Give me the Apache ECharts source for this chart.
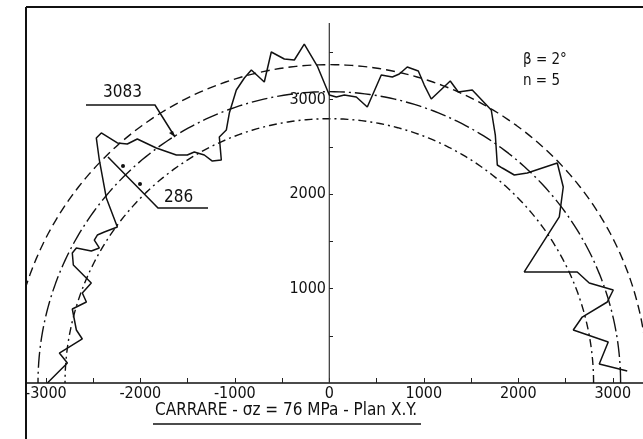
<!DOCTYPE html>
<html><head><meta charset="utf-8">
<script src="https://cdn.jsdelivr.net/npm/echarts@6/dist/echarts.min.js"></script>
<style>html,body{margin:0;padding:0;background:#fff}#c{width:643px;height:439px}</style>
</head><body><div id="c"></div>
<script>
// Measured stress profile (x, y in MPa-scale units), from angle 0° (right) to 180° (left)
const profileX = [3153,2857,2952,2582,2677,2942,3005,2751,2624,2063,2434,2476,2413,2095,1958,1831,1778,1757,1714,1513,1365,1280,1079,1005,942,825,741,667,550,402,286,159,74,0,-127,-265,-370,-476,-614,-688,-825,-899,-984,-1058,-1090,-1164,-1143,-1238,-1323,-1429,-1503,-1619,-1831,-2032,-2138,-2243,-2413,-2466,-2434,-2360,-2243,-2381,-2455,-2487,-2434,-2519,-2677,-2720,-2709,-2519,-2614,-2571,-2720,-2677,-2614,-2857,-2772,-2984];
const profileY = [127,201,434,561,698,857,984,1058,1175,1175,1757,2074,2328,2222,2201,2275,2307,2624,2889,3101,3079,3196,3005,3153,3302,3344,3270,3238,3259,2921,3026,3048,3026,3048,3354,3587,3418,3429,3503,3185,3312,3228,3101,2857,2677,2603,2360,2349,2413,2444,2413,2413,2487,2582,2529,2540,2646,2593,2360,1958,1651,1598,1566,1513,1429,1397,1429,1376,1249,1058,952,857,783,561,466,317,212,0];
// Reference circles: mean 3083, mean ± standard deviation 286
const meanRadius = 3083;
const stdDev = 286;
const circleRadii = [meanRadius + stdDev, meanRadius, meanRadius - stdDev];
const xTickValues = [-3000,-2500,-2000,-1500,-1000,-500,0,500,1000,1500,2000,2500,3000];
const xLabelValues = [-3000,-2000,-1000,0,1000,2000,3000];
const yTickValues = [500,1000,1500,2000,2500,3000,3500];
const yLabelValues = [1000,2000,3000];
const yAxisTop = 3810;
const xMin = -3210, xMax = 3320, yMin = 0, yMax = 3979;

const FONT = "'DejaVu Sans Condensed','Liberation Sans Narrow','DejaVu Sans',sans-serif";
function circlePts(r){const p=[];for(let a=0;a<=180;a+=1){const t=a*Math.PI/180;p.push([r*Math.cos(t),r*Math.sin(t)]);}return p;}
const profile = profileX.map((x,i)=>[x,profileY[i]]);
const circleStyles = [
  {type:[9,5],width:1.4},
  {type:[16,4,2,4],width:1.4},
  {type:[8,4,2,4],width:1.4}
];
const gridLeft = 26, gridWidth = 617;
const yAxisOffset = -Math.round((0 - xMin) / (xMax - xMin) * gridWidth);
const chart = echarts.init(document.getElementById('c'));
chart.setOption({
  animation:false,
  backgroundColor:'#fff',
  grid:{left:gridLeft,top:7,width:gridWidth,height:376,containLabel:false,outerBoundsMode:'none'},
  xAxis:{type:'value',min:xMin,max:xMax,
    axisLine:{show:true,onZero:true,lineStyle:{color:'#111',width:1.6}},
    axisTick:{show:true,inside:true,length:5,customValues:xTickValues,lineStyle:{color:'#222',width:1}},
    axisLabel:{show:true,customValues:xLabelValues,margin:3,color:'#111',fontFamily:FONT,fontSize:16,formatter:v=>String(v)},
    splitLine:{show:false}},
  yAxis:{type:'value',min:yMin,max:yMax,position:'left',offset:yAxisOffset,
    axisLine:{show:false,onZero:false},
    axisTick:{show:true,inside:true,length:4,customValues:yTickValues,lineStyle:{color:'#222',width:1}},
    axisLabel:{show:true,customValues:yLabelValues,margin:3,color:'#111',fontFamily:FONT,fontSize:16,formatter:v=>String(v)},
    splitLine:{show:false}},
  series:[
    ...circleRadii.map((r,i)=>({type:'line',data:circlePts(r),symbol:'none',silent:true,
      lineStyle:{color:'#111',width:circleStyles[i].width,type:circleStyles[i].type}})),
    {type:'line',data:[[0,0],[0,yAxisTop]],symbol:'none',silent:true,lineStyle:{color:'#333',width:1.2}},
    {type:'line',data:profile,symbol:'none',silent:true,lineStyle:{color:'#111',width:1.5}}
  ],
  graphic:[
    {type:'line',shape:{x1:26,y1:7,x2:643,y2:7},style:{stroke:'#111',lineWidth:2}},
    {type:'line',shape:{x1:26,y1:7,x2:26,y2:439},style:{stroke:'#111',lineWidth:2}},
    {type:'text',left:155,top:402,style:{text:'CARRARE - σz = 76 MPa - Plan X.Y.',font:'17px '+FONT,fill:'#111'}},
    {type:'line',shape:{x1:153,y1:424,x2:421,y2:424},style:{stroke:'#111',lineWidth:1.5}},
    {type:'text',left:523,top:53,style:{text:'β = 2°',font:'15px '+FONT,fill:'#111'}},
    {type:'text',left:523,top:74,style:{text:'n = 5',font:'15px '+FONT,fill:'#111'}},
    {type:'text',left:103,top:84,style:{text:'3083',font:'17px '+FONT,fill:'#111'}},
    {type:'polyline',shape:{points:[[86,105],[155,105],[175,137]]},style:{stroke:'#111',lineWidth:1.5,fill:null}},
    {type:'polygon',shape:{points:[[175,137],[169,133],[173,131]]},style:{fill:'#111'}},
    {type:'text',left:164,top:189,style:{text:'286',font:'17px '+FONT,fill:'#111'}},
    {type:'polyline',shape:{points:[[208,208],[158,208],[108,157]]},style:{stroke:'#111',lineWidth:1.5,fill:null}},
    {type:'circle',shape:{cx:123,cy:166,r:2},style:{fill:'#111'}},
    {type:'circle',shape:{cx:140,cy:184,r:2},style:{fill:'#111'}}
  ]
});
</script></body></html>
